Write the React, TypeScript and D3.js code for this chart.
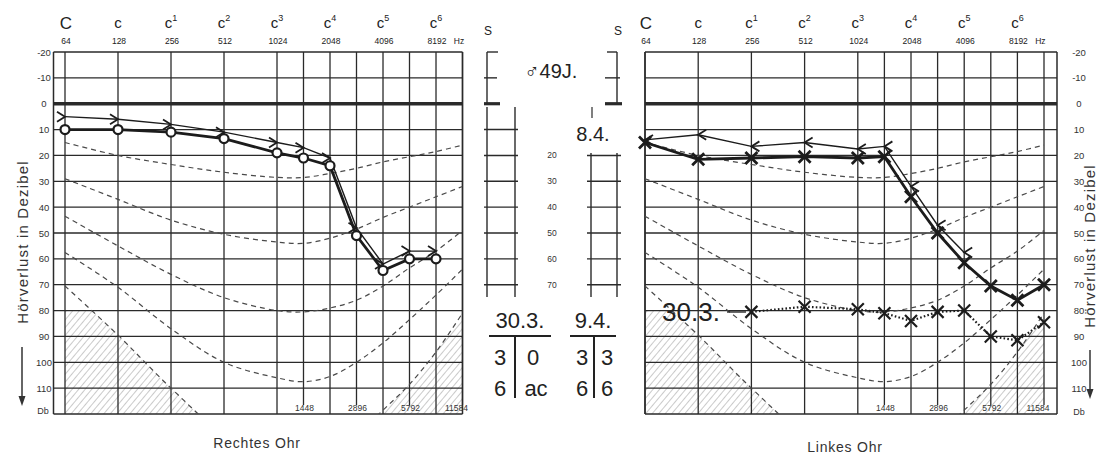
import React from "react";
import * as d3 from "d3";

// frequency grid (Hz)
const freqs = [64, 128, 256, 512, 1024, 1448, 2048, 2896, 4096, 5792, 8192, 11584];
const octaveFreqs = [64, 128, 256, 512, 1024, 2048, 4096, 8192];
const halfFreqs = [1448, 2896, 5792, 11584];
const noteNames = ["C", "c", "c", "c", "c", "c", "c", "c"];
const noteSup = ["", "", "1", "2", "3", "4", "5", "6"];
const freqLabels = ["64", "128", "256", "512", "1024", "2048", "4096", "8192"];
const halfLabels = ["1448", "2896", "5792", "11584"];
const dbTicks = [-20, -10, 0, 10, 20, 30, 40, 50, 60, 70, 80, 90, 100, 110];
const midTicks = [10, 20, 30, 40, 50, 60, 70];
const midLabels = ["20", "30", "40", "50", "60", "70"];

// dashed reference curves (dB at freqs)
const curve1 = [15, 20, 23.5, 26.5, 28.5, 28.5, 27, 25, 22.5, 20.5, 18.5, 16];
const curve2 = [29, 37, 45, 50.5, 53.5, 54, 52, 48.5, 44, 40, 36, 32];
const curve3 = [43.5, 55, 66, 75, 80, 80.5, 79, 76, 70.5, 63.5, 57, 49];
const curve4 = [57.5, 71, 87, 100, 106, 107.5, 105.5, 100, 92.5, 83.5, 74, 64];
const curve5 = [70.5, 89.5, 110, 128, 138, 140, 138, 128, 118.5, 108.5, 96, 81];

// Rechtes Ohr
const rightAir = [10, 10, 11, 13.5, 19, 21, 24, 51, 64.5, 60, 60];
const rightBone = [5, 6, 8, 11, 15, 17, 21, 48, 62, 57, 57];
// Linkes Ohr
const leftAir = [15, 21.5, 21, 20.5, 21, 20.5, 36, 50, 61.5, 70.5, 76, 70];
const leftBone = [14, 12, 16.5, 15, 17.5, 16.5, 32, 47, 57.5];
const leftOld = [80.5, 78.5, 79.5, 81, 84, 80.5, 80, 90, 91.5, 84.5];

const INK = "#1c1c1c";
const GRID = "#2a2a2a";
const FONT = "'Liberation Sans', Arial, sans-serif";

const y = d3.scaleLinear().domain([-20, 120]).range([52, 414]);
const xLeft = d3.scaleLog().base(2).domain([64, 11584]).range([65, 462.5]);
const xRight = d3.scaleLog().base(2).domain([64, 11584]).range([645, 1044]);

const xMark = (cx: number, cy: number, s = 6) =>
  `M${cx - s},${cy - s}L${cx + s},${cy + s}M${cx - s},${cy + s}L${cx + s},${cy - s}`;
const gtMark = (cx: number, cy: number) => `M${cx - 8},${cy - 5}L${cx},${cy}L${cx - 8},${cy + 5}`;
const ltMark = (cx: number, cy: number) => `M${cx + 8},${cy - 5}L${cx},${cy}L${cx + 8},${cy + 5}`;

function Panel({ x, x0, x1, id }: any) {
  const curveLine = d3
    .line<number>()
    .x((d, i) => x(freqs[i]))
    .y((d) => y(d))
    .curve(d3.curveCatmullRom.alpha(0.5));
  const hatchArea = d3
    .area<number>()
    .x((d, i) => x(freqs[i]))
    .y0(y(125))
    .y1((d) => y(d))
    .curve(d3.curveCatmullRom.alpha(0.5));

  return (
    <g>
      <defs>
        <clipPath id={`plot-${id}`}>
          <rect x={x0} y={y(-20)} width={x1 - x0} height={y(120) - y(-20)} />
        </clipPath>
        <clipPath id={`hatch-${id}`}>
          <rect x={x(64)} y={y(80)} width={x(11584) - x(64)} height={y(120) - y(80)} />
        </clipPath>
      </defs>
      <path d={hatchArea(curve5) || ""} fill="url(#hatchPat)" clipPath={`url(#hatch-${id})`} />
      {/* horizontal grid */}
      {dbTicks.map((v) => (
        <line
          key={`h${v}`}
          x1={x0}
          x2={x1}
          y1={y(v)}
          y2={y(v)}
          stroke={GRID}
          strokeWidth={v === 0 ? 3.4 : 1.3}
        />
      ))}
      <line x1={x0} x2={x1} y1={y(120)} y2={y(120)} stroke={GRID} strokeWidth={1.5} />
      <line x1={x0} x2={x0} y1={y(-20)} y2={y(120)} stroke={GRID} strokeWidth={1.5} />
      <line x1={x1} x2={x1} y1={y(-20)} y2={y(120)} stroke={GRID} strokeWidth={1.5} />
      {octaveFreqs.map((f) => (
        <line key={`v${f}`} x1={x(f)} x2={x(f)} y1={y(-20)} y2={y(120)} stroke={GRID} strokeWidth={1.3} />
      ))}
      {halfFreqs.map((f) => (
        <line key={`hv${f}`} x1={x(f)} x2={x(f)} y1={y(-20)} y2={y(116.5)} stroke={GRID} strokeWidth={1.3} />
      ))}
      {halfFreqs.map((f, i) => (
        <text
          key={`hl${f}`}
          x={x(f) + (f === 11584 ? -6 : 1)}
          y={410.5}
          fontSize={8.5}
          textAnchor="middle"
          fill="#333"
          fontFamily={FONT}
        >
          {halfLabels[i]}
        </text>
      ))}
      {/* reference curves */}
      <g clipPath={`url(#plot-${id})`} fill="none" stroke="#4a4a4a" strokeWidth={1.2} strokeDasharray="5,4">
        {[curve1, curve2, curve3, curve4, curve5].map((c, i) => (
          <path key={i} d={curveLine(c) || ""} />
        ))}
      </g>
      {/* top labels */}
      {octaveFreqs.map((f, i) => (
        <g key={`t${f}`} fontFamily={FONT} fill="#222">
          <text x={x(f) + (i === 0 ? 1 : 0)} y={i === 0 ? 29 : 28} fontSize={i === 0 ? 17 : 15} textAnchor="middle">
            {noteNames[i]}
            {noteSup[i] && (
              <tspan fontSize={9} dy={-7}>
                {noteSup[i]}
              </tspan>
            )}
          </text>
          <text x={x(f) + 1} y={44} fontSize={8.5} textAnchor="middle">
            {freqLabels[i]}
          </text>
        </g>
      ))}
      <text x={x(8192) + 23} y={44} fontSize={8.5} textAnchor="middle" fontFamily={FONT} fill="#222">
        Hz
      </text>
    </g>
  );
}

export default function App() {
  const airR = d3.line<number>().x((d, i) => xLeft(freqs[i])).y((d) => y(d));
  const airL = d3.line<number>().x((d, i) => xRight(freqs[i])).y((d) => y(d));
  const oldL = d3.line<number>().x((d, i) => xRight(freqs[i + 2])).y((d) => y(d));

  return (
    <svg
      width={1098}
      height={454}
      style={{ position: "absolute", left: 0, top: 0, background: "#fff" }}
      fontFamily={FONT}
    >
      <defs>
        <pattern id="hatchPat" patternUnits="userSpaceOnUse" width={5} height={5} patternTransform="rotate(40)">
          <line x1={0} y1={0} x2={0} y2={5} stroke="#8a8a8a" strokeWidth={0.9} />
        </pattern>
      </defs>

      <Panel x={xLeft} x0={53.5} x1={462.5} id="L" />
      <Panel x={xRight} x0={645} x1={1057} id="R" />

      {/* y-axis labels */}
      {dbTicks.map((v) => (
        <g key={`yl${v}`} fontSize={9.5} fill="#333" textAnchor="middle">
          <text x={44} y={y(v) + 3.5}>{v < 0 ? `-${-v}` : v}</text>
          <text x={1079} y={y(v) + 3.5}>{v < 0 ? `-${-v}` : v}</text>
        </g>
      ))}
      <text x={43} y={y(120)} fontSize={9} fill="#333" textAnchor="middle">Db</text>
      <text x={1079} y={y(120) + 1} fontSize={9} fill="#333" textAnchor="middle">Db</text>

      {/* axis titles */}
      <text transform="translate(28,242) rotate(-90)" fontSize={15} letterSpacing={1.2} textAnchor="middle" fill="#333">
        Hörverlust in Dezibel
      </text>
      <line x1={22} x2={22} y1={347} y2={398} stroke="#333" strokeWidth={1.5} />
      <path d="M18.5,396L22,406L25.5,396Z" fill="#333" />
      <text transform="translate(1095,246) rotate(-90)" fontSize={15} letterSpacing={1.2} textAnchor="middle" fill="#333">
        Hörverlust in Dezibel
      </text>
      <line x1={1090} x2={1090} y1={350} y2={391} stroke="#333" strokeWidth={1.5} />
      <path d="M1086.5,389L1090,399L1093.5,389Z" fill="#333" />

      <text x={257} y={448} fontSize={14} letterSpacing={0.8} textAnchor="middle" fill="#333">Rechtes Ohr</text>
      <text x={845} y={452} fontSize={14} letterSpacing={0.8} textAnchor="middle" fill="#333">Linkes Ohr</text>

      {/* Rechtes Ohr: bone (>) */}
      <path d={airR(rightBone) || ""} fill="none" stroke={INK} strokeWidth={1.4} />
      {rightBone.map((v, i) => (
        <path key={`rb${i}`} d={gtMark(xLeft(freqs[i]), y(v))} fill="none" stroke={INK} strokeWidth={1.8} />
      ))}
      {/* Rechtes Ohr: air (O) */}
      <path d={airR(rightAir) || ""} fill="none" stroke={INK} strokeWidth={2.8} />
      {rightAir.map((v, i) => (
        <circle key={`ra${i}`} cx={xLeft(freqs[i])} cy={y(v)} r={4.5} fill="#fff" stroke={INK} strokeWidth={2.2} />
      ))}

      {/* Linkes Ohr: old dotted curve */}
      <path d={oldL(leftOld) || ""} fill="none" stroke={INK} strokeWidth={2.2} strokeDasharray="1.6,2.2" />
      {leftOld.map((v, i) => (
        <path key={`lo${i}`} d={xMark(xRight(freqs[i + 2]), y(v), 6)} stroke={INK} strokeWidth={2.2} />
      ))}
      <text x={691} y={321} fontSize={26} textAnchor="middle" fill="#222">30.3.</text>
      <line x1={727} x2={746} y1={312} y2={312} stroke={INK} strokeWidth={1.3} />

      {/* Linkes Ohr: bone (<) */}
      <path d={airL(leftBone) || ""} fill="none" stroke={INK} strokeWidth={1.4} />
      {leftBone.map((v, i) => (
        <path key={`lb${i}`} d={ltMark(xRight(freqs[i]), y(v))} fill="none" stroke={INK} strokeWidth={1.8} />
      ))}
      {/* Linkes Ohr: air (X) */}
      <path d={airL(leftAir) || ""} fill="none" stroke={INK} strokeWidth={2.8} />
      {leftAir.map((v, i) => (
        <path key={`la${i}`} d={xMark(xRight(freqs[i]), y(v), 6)} stroke={INK} strokeWidth={2.8} />
      ))}

      {/* middle block */}
      <g stroke={GRID} strokeWidth={1.4} fill="none">
        <line x1={487} x2={487} y1={y(-20)} y2={y(0)} />
        <line x1={487} x2={498} y1={y(-20)} y2={y(-20)} />
        <line x1={484} x2={497} y1={y(-10)} y2={y(-10)} />
        <line x1={484} x2={500} y1={y(0)} y2={y(0)} strokeWidth={3.2} />
        <line x1={487} x2={487} y1={107} y2={297} />
        <line x1={515} x2={515} y1={107} y2={297} />
        {midTicks.map((v) => (
          <line key={`ml${v}`} x1={484} x2={518} y1={y(v)} y2={y(v)} />
        ))}
        <line x1={617} x2={617} y1={y(-20)} y2={y(0)} />
        <line x1={607} x2={617} y1={y(-20)} y2={y(-20)} />
        <line x1={605} x2={620} y1={y(-10)} y2={y(-10)} />
        <line x1={605} x2={622} y1={y(0)} y2={y(0)} strokeWidth={3.2} />
        <line x1={592} x2={592} y1={107} y2={118} strokeWidth={1.2} />
        <line x1={591} x2={591} y1={153} y2={297} />
        <line x1={617} x2={617} y1={153} y2={297} />
        {midTicks.slice(1).map((v) => (
          <line key={`mr${v}`} x1={587} x2={621} y1={y(v)} y2={y(v)} />
        ))}
      </g>
      {midTicks.slice(1).map((v, i) => (
        <text key={`mt${v}`} x={552} y={y(v) + 3} fontSize={8.5} textAnchor="middle" fill="#333">
          {midLabels[i]}
        </text>
      ))}
      <text x={488} y={35} fontSize={12} textAnchor="middle" fill="#222">S</text>
      <text x={618} y={35} fontSize={12} textAnchor="middle" fill="#222">S</text>
      <text x={551} y={78} fontSize={20} textAnchor="middle" fill="#222">♂49J.</text>
      <text x={593} y={141} fontSize={20} textAnchor="middle" fill="#222">8.4.</text>

      <g fill="#222" fontSize={22} textAnchor="middle">
        <text x={520} y={328}>30.3.</text>
        <text x={593} y={328}>9.4.</text>
        <text x={500} y={365}>3</text>
        <text x={533} y={365}>0</text>
        <text x={500} y={396}>6</text>
        <text x={536} y={396}>ac</text>
        <text x={582} y={365}>3</text>
        <text x={607} y={365}>3</text>
        <text x={582} y={396}>6</text>
        <text x={607} y={396}>6</text>
      </g>
      <g stroke="#222" strokeWidth={2}>
        <line x1={489} x2={551} y1={336} y2={336} />
        <line x1={570} x2={616} y1={336} y2={336} />
        <line x1={515} x2={515} y1={337} y2={398} />
        <line x1={594} x2={594} y1={337} y2={398} />
      </g>
    </svg>
  );
}
